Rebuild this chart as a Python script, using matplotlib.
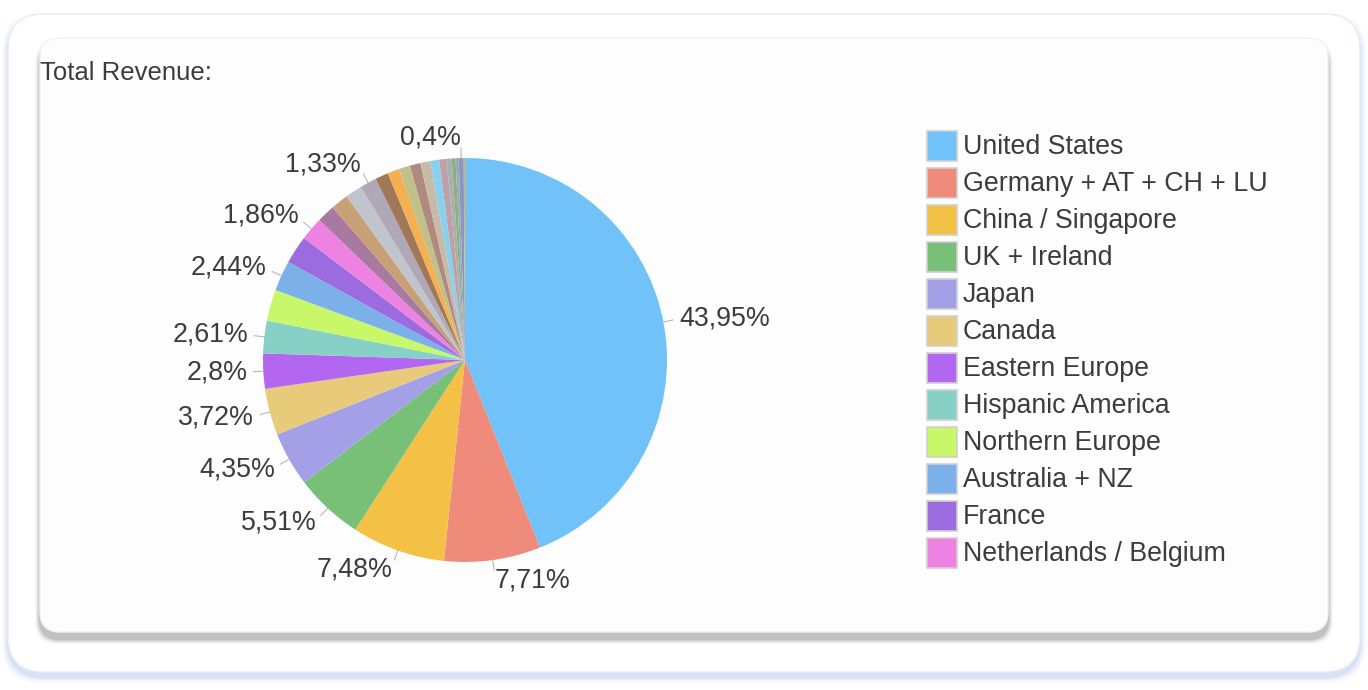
import numpy as np
import matplotlib
matplotlib.use("Agg")
import matplotlib.pyplot as plt
from matplotlib.patches import FancyBboxPatch, Rectangle

plt.rcParams["font.family"] = ["Liberation Sans", "DejaVu Sans"]

# data
regions = [
    "United States", "Germany + AT + CH + LU", "China / Singapore", "UK + Ireland",
    "Japan", "Canada", "Eastern Europe", "Hispanic America", "Northern Europe",
    "Australia + NZ", "France", "Netherlands / Belgium",
    "Region 13", "Region 14", "Region 15", "Region 16", "Region 17", "Region 18",
    "Region 19", "Region 20", "Region 21", "Region 22", "Region 23", "Region 24",
    "Region 25", "Region 26", "Region 27", "Region 28",
]
shares = [
    43.95, 7.71, 7.48, 5.51, 4.35, 3.72, 2.8, 2.61, 2.5, 2.44, 2.25, 1.86,
    1.45, 1.4, 1.35, 1.33, 1.05, 0.94, 0.9, 0.85, 0.8, 0.7, 0.6, 0.4, 0.3, 0.25,
    0.4, 0.1,
]
colors = [
    "#71c2f8", "#ef8b7b", "#f2c145", "#78bf78", "#a3a0e8", "#e8cb7a", "#b366f0",
    "#86d0c6", "#c8f86a", "#7bb0e8", "#9d6be0", "#ee82e2",
    "#a87aa0", "#c8a078", "#c0c4cc", "#b0a8b6", "#a07858", "#f4b050", "#c0c088",
    "#b08a80", "#c8baa8", "#88d0f0", "#c0a0a8", "#a8b0b0", "#88b078", "#a0a8b8",
    "#8898c0", "#f0b040",
]
# slices that carry a percentage label
labelled = [0, 1, 2, 3, 4, 5, 6, 7, 9, 11, 15, 26]
legend_count = 12

W, H = 1368, 690
TXT = "#3c3c3c"
FS = 19.3

fig = plt.figure(figsize=(W / 100, H / 100), dpi=100)
bg = fig.add_axes([0, 0, 1, 1])
bg.set_xlim(0, W)
bg.set_ylim(H, 0)
bg.axis("off")

# outer card with bluish glow
for i, a in enumerate([0.05, 0.08, 0.12, 0.18]):
    g = 6 - i * 1.5
    bg.add_patch(FancyBboxPatch((8 - g, 15 - g + 4), 1352 + 2 * g, 658 + 2 * g,
                                boxstyle="round,pad=0,rounding_size=38",
                                fc="#9db4e8", ec="none", alpha=a))
bg.add_patch(FancyBboxPatch((8, 14), 1352, 658, boxstyle="round,pad=0,rounding_size=36",
                            fc="white", ec="#e8ecf6", lw=1))

# inner card with grey shadow
for i, a in enumerate([0.06, 0.1, 0.16, 0.25]):
    g = 5 - i * 1.2
    bg.add_patch(FancyBboxPatch((40 - g, 40 - g + 6), 1288 + 2 * g, 593 + 2 * g,
                                boxstyle="round,pad=0,rounding_size=22",
                                fc="#808080", ec="none", alpha=a))
bg.add_patch(FancyBboxPatch((40, 38), 1288, 594, boxstyle="round,pad=0,rounding_size=20",
                            fc="#fdfdfd", ec="#f2f2f2", lw=1))

bg.text(40, 80, "Total Revenue:", fontsize=18.5, color=TXT, ha="left", va="baseline")

# pie
cx, cy, r = 465, 360, 202
ax = fig.add_axes([(cx - r) / W, (H - cy - r) / H, 2 * r / W, 2 * r / H])
wedges, _ = ax.pie(shares, colors=colors, startangle=90, counterclock=False,
                   radius=1, wedgeprops=dict(linewidth=0))
ax.set_xlim(-1, 1)
ax.set_ylim(-1, 1)
ax.set_aspect("equal")
ax.axis("off")

total = sum(shares)
cum = np.cumsum(shares)
for i in labelled:
    mid = (cum[i] - shares[i] / 2) / total * 360
    ang = np.deg2rad(90 - mid)
    ux, uy = np.cos(ang), np.sin(ang)
    ax.plot([ux * 1.0, ux * 1.05], [uy * 1.0, uy * 1.05], color="#b8b8b8", lw=0.8,
            clip_on=False)
    txt = f"{shares[i]:g}".replace(".", ",") + "%"
    ax.text(ux * 1.08, uy * 1.1, txt, fontsize=FS, color=TXT,
            ha="left" if ux >= 0 else "right", va="center", clip_on=False)

# legend
for i in range(legend_count):
    y = 146 + 37 * i
    bg.add_patch(Rectangle((927, y - 15), 30, 30, fc=colors[i], ec="#d0d0d0", lw=1.2))
    bg.text(963, y + 1, regions[i], fontsize=FS, color=TXT, ha="left", va="center")

fig.savefig("out.png", dpi=100, facecolor="white")
